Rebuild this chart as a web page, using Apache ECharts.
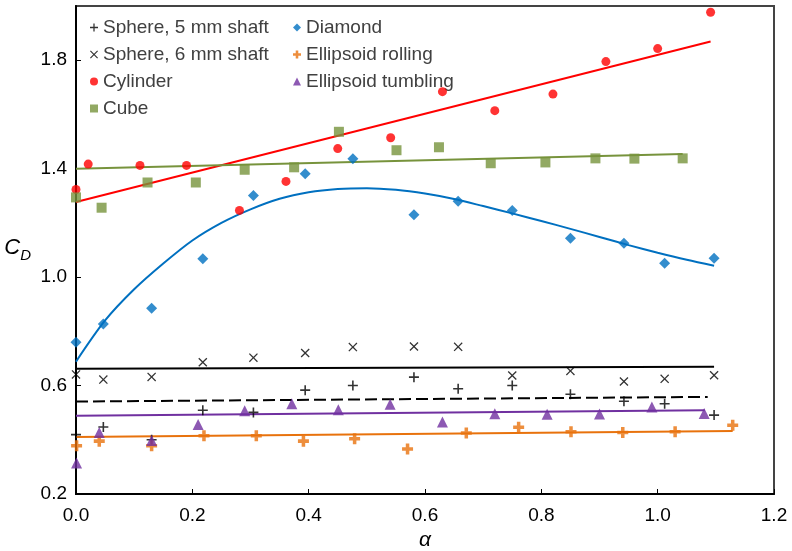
<!DOCTYPE html>
<html>
<head>
<meta charset="utf-8">
<script src="https://cdn.jsdelivr.net/npm/echarts@6/dist/echarts.min.js"></script>
<style>
  html, body { margin: 0; padding: 0; background: #fff; }
  #chart { width: 792px; height: 551px; }
</style>
</head>
<body>
<div id="chart"></div>
<script>
// Drag coefficient C_D versus aspect parameter alpha for several particle shapes

const FONT = '"Liberation Sans", Arial, sans-serif';

// Shared alpha stations (spheres and diamond)
const alphaMain = [0.000, 0.047, 0.130, 0.218, 0.305, 0.394, 0.476, 0.581, 0.657, 0.750, 0.850, 0.942, 1.012, 1.097];

const sphere5Cd = [0.419, 0.447, 0.400, 0.509, 0.501, 0.583, 0.600, 0.631, 0.588, 0.600, 0.568, 0.542, 0.533, 0.491];
const sphere6Cd = [0.641, 0.622, 0.632, 0.686, 0.703, 0.720, 0.742, 0.744, 0.743, 0.637, 0.654, 0.615, 0.625, 0.638];
const diamondCd = [0.760, 0.827, 0.885, 1.068, 1.301, 1.381, 1.437, 1.230, 1.280, 1.246, 1.143, 1.125, 1.051, 1.070];

const cylinderAlpha = [0.000, 0.021, 0.110, 0.190, 0.281, 0.361, 0.450, 0.541, 0.630, 0.720, 0.820, 0.911, 1.000, 1.091];
const cylinderCd    = [1.323, 1.417, 1.412, 1.412, 1.246, 1.353, 1.474, 1.514, 1.684, 1.614, 1.675, 1.795, 1.843, 1.977];

const cubeAlpha = [0.000, 0.044, 0.123, 0.206, 0.290, 0.375, 0.452, 0.551, 0.624, 0.713, 0.807, 0.893, 0.960, 1.043];
const cubeCd    = [1.294, 1.256, 1.349, 1.349, 1.396, 1.405, 1.536, 1.468, 1.479, 1.420, 1.423, 1.438, 1.437, 1.438];

const rollingAlpha = [0.001, 0.040, 0.130, 0.220, 0.310, 0.391, 0.479, 0.570, 0.671, 0.761, 0.851, 0.940, 1.030, 1.129];
const rollingCd    = [0.378, 0.395, 0.378, 0.415, 0.415, 0.395, 0.404, 0.366, 0.425, 0.446, 0.430, 0.427, 0.430, 0.454];

const tumblingAlpha = [0.001, 0.040, 0.130, 0.210, 0.290, 0.371, 0.451, 0.540, 0.630, 0.720, 0.810, 0.900, 0.990, 1.080];
const tumblingCd    = [0.314, 0.427, 0.397, 0.456, 0.507, 0.533, 0.511, 0.531, 0.466, 0.496, 0.494, 0.495, 0.521, 0.497];

// Trend lines: [alpha, C_D] end points
const sphere5Fit  = [[0, 0.541], [1.086, 0.558]];
const sphere6Fit  = [[0, 0.662], [1.097, 0.669]];
const cylinderFit = [[0, 1.277], [1.091, 1.869]];
const cubeFit     = [[0, 1.400], [1.043, 1.454]];
const rollingFit  = [[0, 0.410], [1.129, 0.432]];
const tumblingFit = [[0, 0.489], [1.081, 0.509]];
// Diamond trend curve, sampled along its length
const diamondCurveAlpha = [0.000, 0.050, 0.100, 0.150, 0.200, 0.250, 0.300, 0.350, 0.400, 0.450, 0.500, 0.550,
                           0.600, 0.650, 0.700, 0.750, 0.800, 0.850, 0.900, 0.950, 1.000, 1.050, 1.097];
const diamondCurveCd    = [0.688, 0.840, 0.955, 1.050, 1.135, 1.200, 1.250, 1.289, 1.313, 1.325, 1.328, 1.322,
                           1.308, 1.288, 1.262, 1.235, 1.207, 1.178, 1.148, 1.118, 1.090, 1.064, 1.042];

const xTicks = { min: 0, max: 1.2, interval: 0.2 };
const yTicks = { min: 0.2, max: 2.0, interval: 0.4 };

const zip = (xs, ys) => xs.map((x, i) => [x, ys[i]]);

const PLUS_THIN = 'path://M4.2,0H5.8V4.2H10V5.8H5.8V10H4.2V5.8H0V4.2H4.2Z';
const PLUS_BOLD = 'path://M3.4,0H6.6V3.4H10V6.6H6.6V10H3.4V6.6H0V3.4H3.4Z';
const CROSS = 'path://M0,1L1,0L5,4L9,0L10,1L6,5L10,9L9,10L5,6L1,10L0,9L4,5Z';

const C = {
  black: '#000000', red: '#ff0000', green: '#77933c',
  blue: '#0070c0', orange: '#e8720c', purple: '#7030a0'
};

function scatter(name, data, symbol, size, color) {
  return {
    name, type: 'scatter', data, symbol, symbolSize: size,
    itemStyle: { color }, z: 5, silent: true
  };
}
function fit(name, data, color, type, smooth) {
  return {
    name, type: 'line', data, showSymbol: false, symbol: 'none', smooth: smooth || false,
    lineStyle: { color, width: 2, type: type || 'solid' },
    z: 3, silent: true
  };
}

const chart = echarts.init(document.getElementById('chart'), null, { renderer: 'canvas' });

const legendText = { fontSize: 19, color: '#404040', fontFamily: FONT, lineHeight: 19 };

chart.setOption({
  animation: false,
  backgroundColor: '#ffffff',
  grid: {
    left: 76, right: 18, top: 6, bottom: 57,
    outerBoundsMode: 'none', containLabel: false,
    show: true, borderColor: '#444', borderWidth: 2, backgroundColor: 'transparent'
  },
  legend: [
    {
      data: ['Sphere, 5 mm shaft', 'Sphere, 6 mm shaft', 'Cylinder', 'Cube'],
      orient: 'vertical', left: 85, top: 13, itemGap: 8,
      itemWidth: 8, itemHeight: 8, selectedMode: false, textStyle: legendText
    },
    {
      data: ['Diamond', 'Ellipsoid rolling', 'Ellipsoid tumbling'],
      orient: 'vertical', left: 288, top: 13, itemGap: 8,
      itemWidth: 8, itemHeight: 8, selectedMode: false, textStyle: legendText
    }
  ],
  xAxis: {
    type: 'value', min: xTicks.min, max: xTicks.max, interval: xTicks.interval,
    name: 'α', nameLocation: 'middle', nameGap: 35,
    nameTextStyle: { fontSize: 21, fontStyle: 'italic', color: '#000', fontFamily: FONT },
    axisLine: { show: true, lineStyle: { color: '#000', width: 2 } },
    axisTick: { show: true, inside: true, length: 5, lineStyle: { color: '#000', width: 1 } },
    axisLabel: {
      fontSize: 19, color: '#000', fontFamily: FONT, margin: 12,
      formatter: v => v.toFixed(1)
    },
    splitLine: { show: false }
  },
  yAxis: {
    type: 'value', min: yTicks.min, max: yTicks.max, interval: yTicks.interval,
    name: '{c|C}{d|D}', nameLocation: 'middle', nameGap: 45, nameRotate: 0,
    nameTextStyle: {
      fontFamily: FONT, color: '#000',
      rich: {
        c: { fontSize: 22, fontStyle: 'italic', fontFamily: FONT, color: '#000', lineHeight: 26, verticalAlign: 'top' },
        d: { fontSize: 15, fontStyle: 'italic', fontFamily: FONT, color: '#000', lineHeight: 26, verticalAlign: 'bottom' }
      }
    },
    axisLine: { show: true, lineStyle: { color: '#000', width: 2 } },
    axisTick: { show: true, inside: true, length: 5, lineStyle: { color: '#000', width: 1 } },
    axisLabel: {
      fontSize: 19, color: '#000', fontFamily: FONT, margin: 9, showMaxLabel: false,
      formatter: v => v.toFixed(1)
    },
    splitLine: { show: false }
  },
  series: [
    fit('Sphere, 5 mm shaft fit', sphere5Fit, C.black, [12, 5]),
    fit('Sphere, 6 mm shaft fit', sphere6Fit, C.black),
    fit('Cylinder fit', cylinderFit, C.red),
    fit('Cube fit', cubeFit, C.green),
    fit('Diamond fit', zip(diamondCurveAlpha, diamondCurveCd), C.blue, 'solid', 0.3),
    fit('Ellipsoid rolling fit', rollingFit, C.orange),
    fit('Ellipsoid tumbling fit', tumblingFit, C.purple),

    scatter('Sphere, 5 mm shaft', zip(alphaMain, sphere5Cd), PLUS_THIN, 10, C.black),
    scatter('Sphere, 6 mm shaft', zip(alphaMain, sphere6Cd), CROSS, 9, C.black),
    scatter('Cylinder', zip(cylinderAlpha, cylinderCd), 'circle', 9, C.red),
    scatter('Cube', zip(cubeAlpha, cubeCd), 'rect', 10, C.green),
    scatter('Diamond', zip(alphaMain, diamondCd), 'diamond', 11, C.blue),
    scatter('Ellipsoid rolling', zip(rollingAlpha, rollingCd), PLUS_BOLD, 11, C.orange),
    scatter('Ellipsoid tumbling', zip(tumblingAlpha, tumblingCd), 'triangle', 11, C.purple)
  ]
});
</script>
</body>
</html>
